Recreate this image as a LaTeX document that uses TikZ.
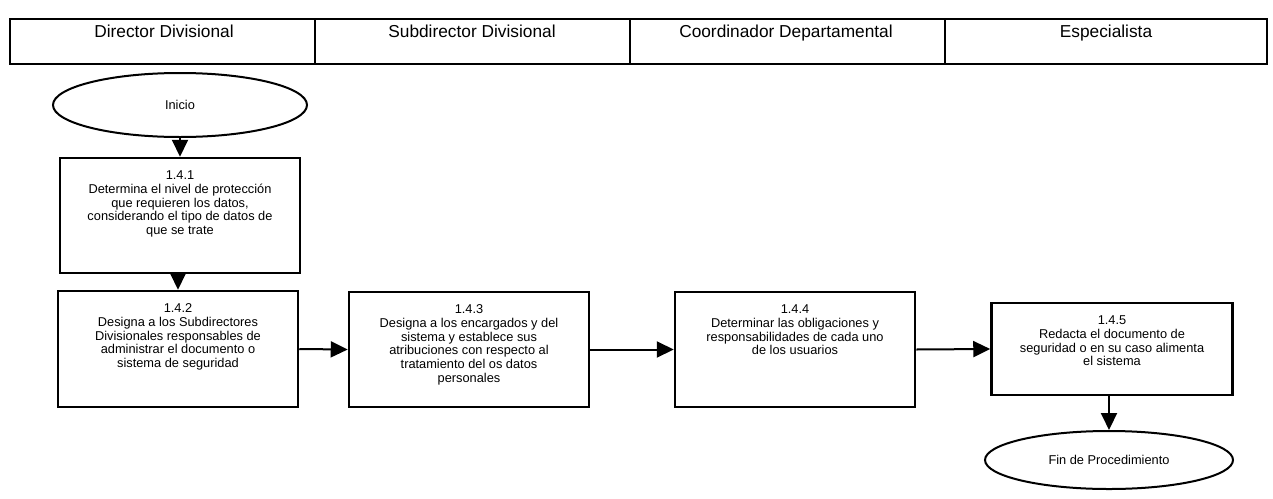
\documentclass[tikz,border=0pt]{standalone}
\usepackage{fontspec}
\setmainfont{Liberation Sans}
\usetikzlibrary{arrows.meta,shapes.geometric}
\begin{document}
\begin{tikzpicture}[x=1pt,y=-1pt,
  lanecell/.style={draw, line width=1.8pt, rectangle, minimum height=45pt, inner sep=0pt},
  lanetext/.style={font=\fontsize{17.3}{19}\selectfont, inner sep=0pt, anchor=base},
  stepbox/.style={draw, line width=2.5pt, rectangle, minimum width=240pt, inner sep=0pt},
  steptext/.style={anchor=north, align=center, font=\fontsize{12.8}{13.7}\selectfont, inner sep=0pt},
  term/.style={draw, ellipse, line width=2pt, inner sep=0pt, font=\fontsize{12.8}{13.7}\selectfont},
  arr/.style={line width=2pt, -{Triangle[length=17pt,width=16pt]}}]
\useasboundingbox (0,0) rectangle (1273,498);
% header
\node[lanecell, minimum width=305pt] (h1) at (162.5,41.5) {};
\node[lanecell, minimum width=315pt] (h2) at (472.5,41.5) {};
\node[lanecell, minimum width=315pt] (h3) at (787.5,41.5) {};
\node[lanecell, minimum width=322pt] (h4) at (1106,41.5) {};
\node[lanetext] (t1) at (164,37) {Director Divisional};
\node[lanetext] (t2) at (472,37) {Subdirector Divisional};
\node[lanetext] (t3) at (786,37) {Coordinador Departamental};
\node[lanetext] (t4) at (1106,37) {Especialista};
% terminals
\node[term, minimum width=254pt, minimum height=64pt] (inicio) at (180,105) {Inicio};
\node[term, minimum width=248pt, minimum height=58pt] (fin) at (1109,460) {Fin de Procedimiento};
% boxes
\node[stepbox, minimum height=115pt] (b1) at (180,215.5) {};
\node[stepbox, minimum height=116pt] (b2) at (178,349) {};
\node[stepbox, minimum height=115pt] (b3) at (469,349.5) {};
\node[stepbox, minimum height=115pt] (b4) at (795,349.5) {};
\node[stepbox, minimum width=241pt, minimum height=92pt] (b5) at (1112,349) {};
\node[steptext] (x1) at ([yshift=-14pt]b1.north) {1.4.1\\Determina el nivel de protección\\que requieren los datos,\\considerando el tipo de datos de\\que se trate};
\node[steptext] (x2) at ([yshift=-14pt]b2.north) {1.4.2\\Designa a los Subdirectores\\Divisionales responsables de\\administrar el documento o\\sistema de seguridad};
\node[steptext] (x3) at ([yshift=-14pt]b3.north) {1.4.3\\Designa a los encargados y del\\sistema y establece sus\\atribuciones con respecto al\\tratamiento del os datos\\personales};
\node[steptext] (x4) at ([yshift=-14pt]b4.north) {1.4.4\\Determinar las obligaciones y\\responsabilidades de cada uno\\de los usuarios};
\node[steptext] (x5) at ([yshift=-14pt]b5.north) {1.4.5\\Redacta el documento de\\seguridad o en su caso alimenta\\el sistema};
% connectors
\draw[arr] (inicio.south) -- (b1.north -| inicio.south);
\draw[arr] (b1.south -| b2.north) -- (b2.north);
\draw[arr] (b2.east) -- (b3.west);
\draw[arr] (b3.east) -- (b4.west);
\draw[arr] (b4.east) -- (b5.west);
\draw[arr] (b5.south -| fin.north) -- (fin.north);
\end{tikzpicture}
\end{document}
